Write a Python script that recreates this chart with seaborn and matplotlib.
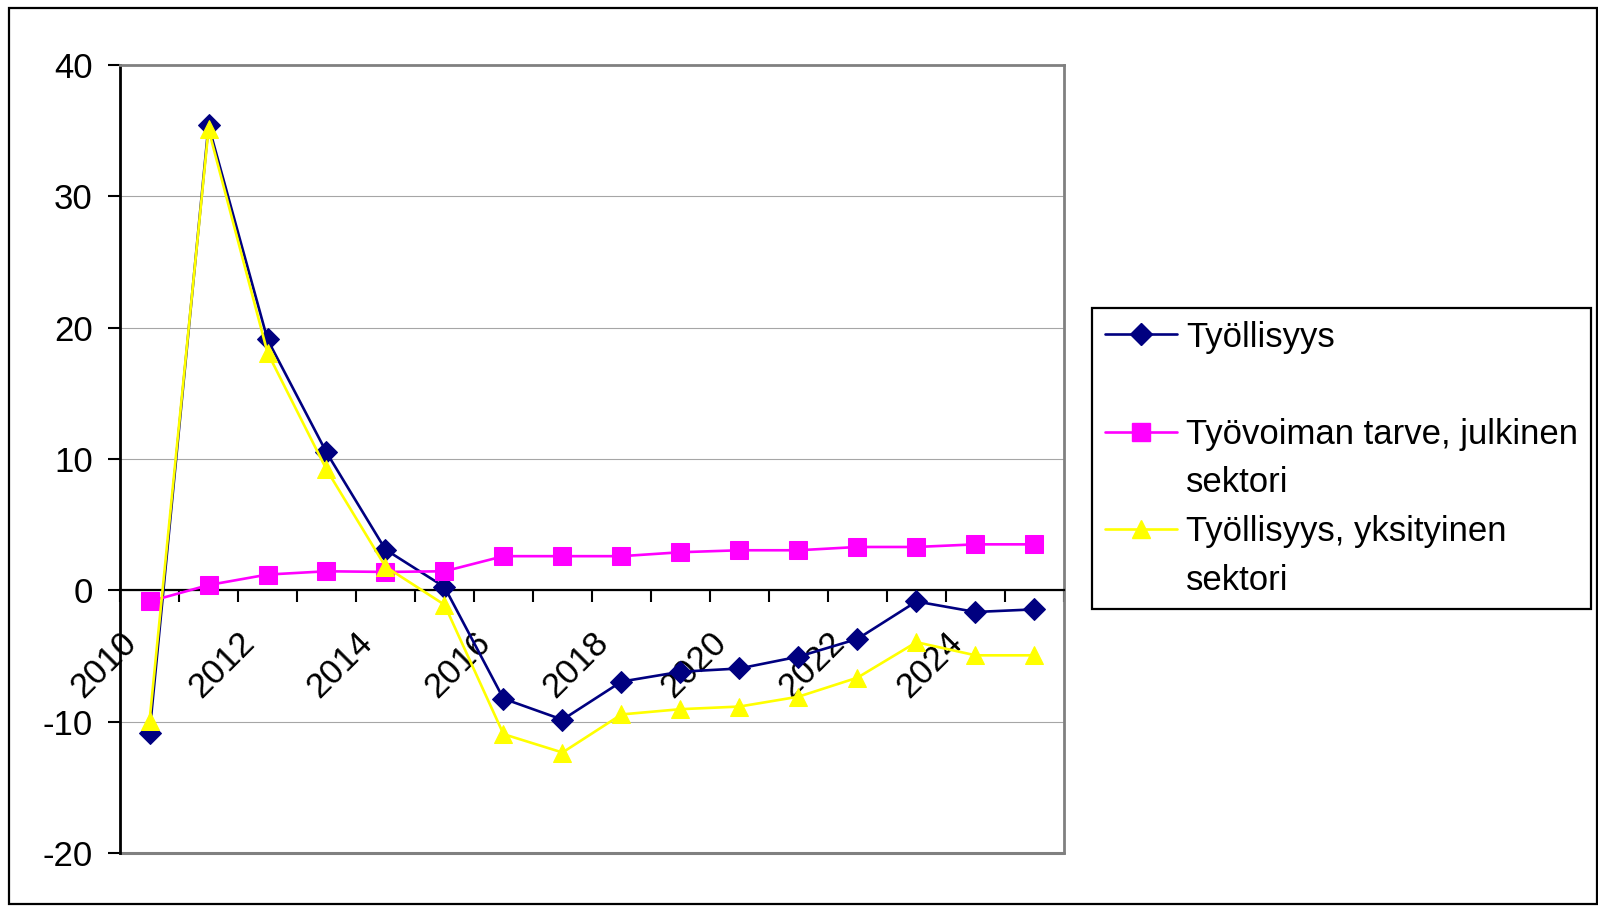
import numpy as np
import pandas as pd
import matplotlib
matplotlib.use("Agg")
import matplotlib.pyplot as plt
import matplotlib.transforms as mtransforms
from matplotlib.lines import Line2D
from matplotlib.patches import Rectangle
import seaborn as sns

# values
years = list(range(2010, 2026))
tyollisyys = [-10.9, 35.4, 19.1, 10.5, 3.1, 0.25, -8.25, -9.85, -6.95, -6.2,
              -5.95, -5.05, -3.7, -0.85, -1.65, -1.45]
tarve_julkinen = [-0.85, 0.4, 1.2, 1.45, 1.4, 1.45, 2.6, 2.6, 2.6, 2.9,
                  3.05, 3.05, 3.3, 3.3, 3.5, 3.5]
tyollisyys_yksityinen = [-9.95, 35.1, 18.1, 9.2, 1.8, -1.1, -10.95, -12.35, -9.45, -9.05,
                         -8.85, -8.1, -6.65, -3.95, -4.95, -4.95]

series_names = ["Työllisyys", "Työvoiman tarve, julkinen sektori", "Työllisyys, yksityinen sektori"]
series_values = [tyollisyys, tarve_julkinen, tyollisyys_yksityinen]
colors = ["#000080", "#FF00FF", "#FFFF00"]
markers = ["D", "s", "^"]
marker_sizes = [11.5, 12.5, 13.5]
y_ticks = [-20, -10, 0, 10, 20, 30, 40]

sns.set_style("white")
plt.rcParams["font.family"] = ["Liberation Sans", "DejaVu Sans"]
plt.rcParams["axes.unicode_minus"] = False
plt.rcParams["text.color"] = "black"
plt.rcParams["xtick.color"] = "black"
plt.rcParams["ytick.color"] = "black"

fig = plt.figure(figsize=(15.98, 9.06), dpi=100)
ax = fig.add_axes([0.0751, 0.0585, 0.5907, 0.8698])

pos = np.arange(len(years))
df = pd.DataFrame({"pos": pos})
for name, vals, col, mk, ms in zip(series_names, series_values, colors, markers, marker_sizes):
    df[name] = vals
    sns.lineplot(data=df, x="pos", y=name, ax=ax, color=col, marker=mk, markersize=ms,
                 markeredgecolor=col, linewidth=1.9, legend=False, zorder=5)

ax.set_xlim(-0.5, len(years) - 0.5)
ax.set_ylim(-20, 40)
ax.set_xlabel("")
ax.set_ylabel("")

# y axis
ax.set_yticks(y_ticks)
ax.set_yticklabels([str(t) for t in y_ticks])
ax.tick_params(axis="y", which="major", length=8.6, width=1.5, pad=11, labelsize=25,
               left=True, direction="out", color="black", labelcolor="black")
ax.yaxis.grid(True, color="#a6a6a6", linewidth=0.8, zorder=0)
ax.xaxis.grid(False)

# x axis crossing at zero, category boundaries as tick marks
ax.spines["bottom"].set_position(("data", 0))
ax.spines["bottom"].set_color("black")
ax.spines["bottom"].set_linewidth(1.6)
ax.spines["left"].set_color("black")
ax.spines["left"].set_linewidth(2)
for side in ["top", "right"]:
    ax.spines[side].set_visible(True)
    ax.spines[side].set_color("#808080")
    ax.spines[side].set_linewidth(2)
ax.axhline(-20, color="#808080", linewidth=2.2, zorder=1, clip_on=False)

ax.set_xticks(pos[::2])
ax.set_xticklabels([str(y) for y in years[::2]])
ax.set_xticks(np.arange(-0.5, len(years), 1), minor=True)
ax.tick_params(axis="x", which="major", length=0, pad=34, labelsize=25, bottom=True,
               labelcolor="black")
ax.tick_params(axis="x", which="minor", length=8.6, width=1.5, bottom=True,
               direction="out", color="black")
shift = mtransforms.ScaledTranslation(-0.18, 0, fig.dpi_scale_trans)
for lbl in ax.get_xticklabels():
    lbl.set_rotation(45)
    lbl.set_ha("right")
    lbl.set_va("center")
    lbl.set_rotation_mode("anchor")
    lbl.set_transform(lbl.get_transform() + shift)

# legend, Excel-like with wrapped labels
handles, labels = [], []
for name, col, mk, ms in zip(series_names, colors, markers, marker_sizes):
    handles.append(Line2D([], [], color=col, marker=mk, markersize=ms,
                          markeredgecolor=col, linewidth=1.9))
    if name == series_names[0]:
        labels.append(name)
        second = " "
    else:
        first, second = name.rsplit(" ", 1)
        labels.append(first)
    handles.append(Line2D([], [], color="none"))
    labels.append(second)

leg = fig.legend(handles, labels, loc="upper left",
                 bbox_to_anchor=(1092 / 1598, 1 - 308 / 906), bbox_transform=fig.transFigure,
                 frameon=True, fancybox=False, edgecolor="black", framealpha=1,
                 borderaxespad=0, borderpad=0.36, handlelength=2.1, handletextpad=0.25,
                 labelspacing=0.45, fontsize=25, labelcolor="black")
leg.get_frame().set_linewidth(1.6)

# outer chart border
fig.add_artist(Rectangle((9 / 1598, 0.0022), 0.9935, 0.989, transform=fig.transFigure,
                         fill=False, edgecolor="black", linewidth=1.6))

fig.savefig("out.png", dpi=100)
